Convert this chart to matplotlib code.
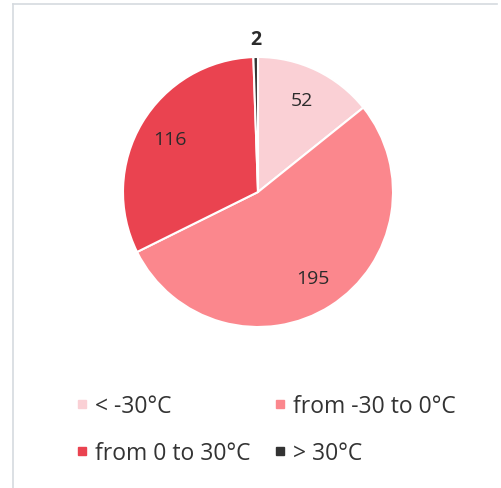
import matplotlib
matplotlib.use("Agg")
import matplotlib.pyplot as plt
import numpy as np
from matplotlib.lines import Line2D

categories = ["< -30°C", "from -30 to 0°C", "from 0 to 30°C", "> 30°C"]
counts = [52, 195, 116, 2]
colors = ["#FAD0D5", "#FB878D", "#EA4350", "#333333"]

plt.rcParams["font.family"] = ["Open Sans", "DejaVu Sans"]

fig = plt.figure(figsize=(5.02, 4.89), dpi=100)

# light frame around the chart area (top and left edges)
fig.add_artist(Line2D([13 / 502, 497 / 502], [1 - 5 / 489, 1 - 5 / 489],
                      transform=fig.transFigure, color="#D5DADF", lw=1.2))
fig.add_artist(Line2D([13 / 502, 13 / 502], [1 - 5 / 489, 0],
                      transform=fig.transFigure, color="#D5DADF", lw=1.2))

ax = fig.add_axes([123 / 502, 1 - 328 / 489, 270 / 502, 270 / 489])
wedges, texts, autotexts = ax.pie(
    counts, colors=colors, startangle=90, counterclock=False,
    autopct=lambda p: f"{p * sum(counts) / 100:.0f}", pctdistance=0.76,
    wedgeprops=dict(edgecolor="white", linewidth=1.5),
    textprops=dict(fontsize=14, color="#2B2B2B"),
)
ax.set_xlim(-1, 1)
ax.set_ylim(-1, 1)
ax.set_aspect("equal")
for t in autotexts:
    t.set_clip_on(False)

# the tiny slice gets its label outside the pie
w = wedges[-1]
mid = np.deg2rad((w.theta1 + w.theta2) / 2)
autotexts[-1].set_position((1.13 * np.cos(mid), 1.13 * np.sin(mid)))
autotexts[-1].set_fontweight("bold")

# legend filled row by row: two items per row
order = [0, 2, 1, 3]
handles = [Line2D([], [], marker="s", linestyle="", markersize=6,
                  markerfacecolor=colors[i], markeredgecolor=colors[i]) for i in order]
fig.legend(handles, [categories[i] for i in order], ncol=2, frameon=False,
           fontsize=16.5, loc="upper left", bbox_to_anchor=(53 / 502, 1 - 374 / 489),
           handlelength=0.7, handletextpad=0.25, columnspacing=0.9,
           labelspacing=1.0, labelcolor="#333333")

fig.savefig("out.png", dpi=100)
